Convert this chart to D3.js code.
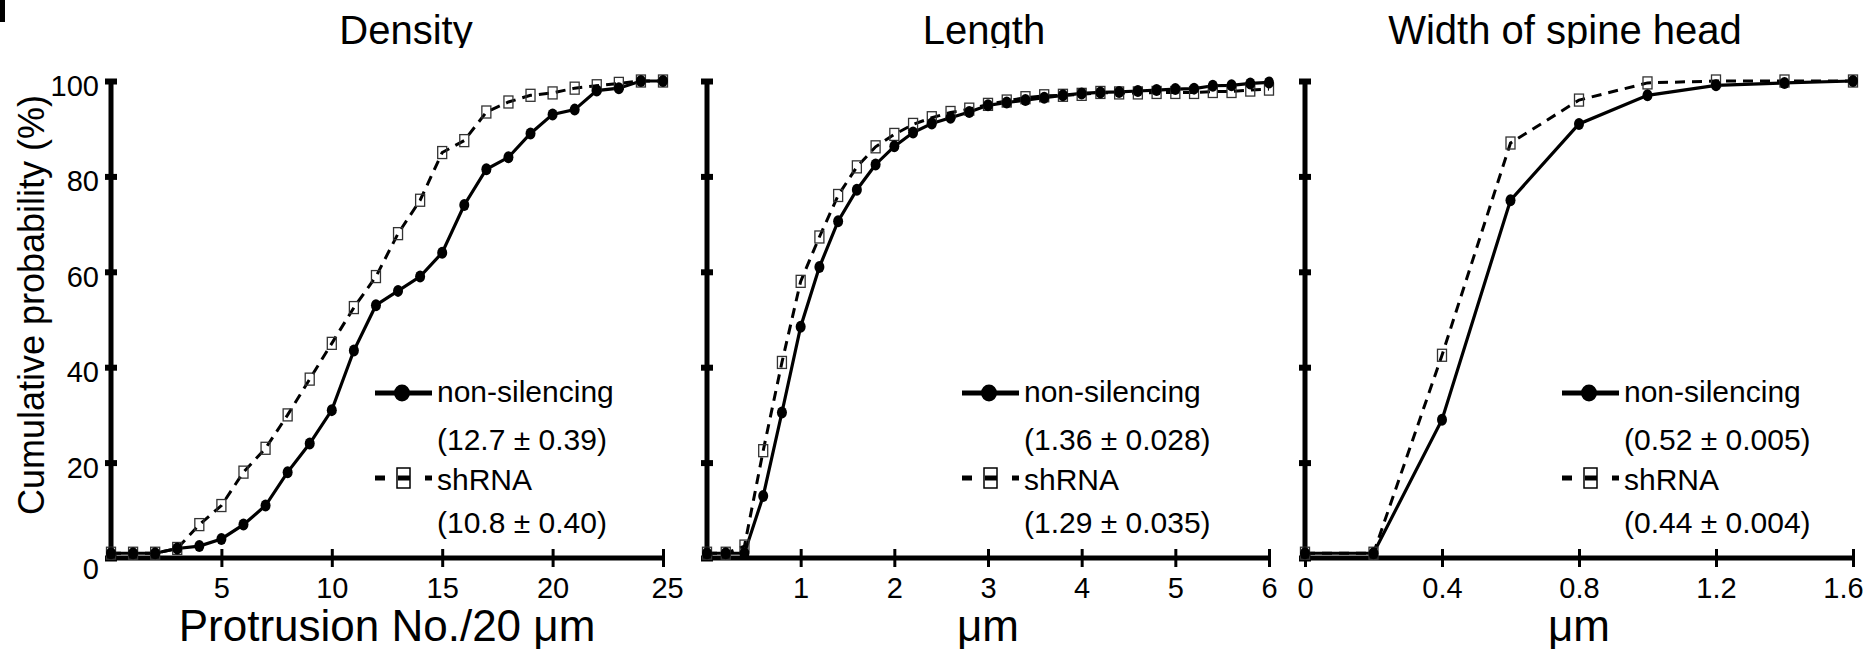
<!DOCTYPE html>
<html>
<head>
<meta charset="utf-8">
<script src="https://cdn.jsdelivr.net/npm/d3@7/dist/d3.min.js"></script>
<style>
	body { margin: 0; background: #fff; }
	svg { display: block; font-family: "Liberation Sans", Arial, sans-serif; }
</style>
</head>
<body>
<div id="svg-container"></div>
<script>

// DATA
const yTicks = [0, 20, 40, 60, 80, 100];
const seriesNames = ['non-silencing', 'shRNA'];

// density panel
const densityX = [0, 1, 2, 3, 4, 5, 6, 7, 8, 9, 10, 11, 12, 13, 14, 15, 16, 17, 18, 19, 20, 21, 22, 23, 24, 25];
const densityNonSil = [1, 1, 1, 2, 2.5, 4, 7, 11, 18, 24, 31, 43.5, 53, 56, 59, 64, 74, 81.5, 84, 89, 93, 94, 98, 98.5, 100, 100];
const densityShRNA = [1, 1, 1, 2, 7, 11, 18, 23, 30, 37.5, 45, 52.5, 59, 68, 75, 85, 87.5, 93.5, 95.6, 97, 97.5, 98.5, 99, 99.5, 100, 100];
const densityTicks = [5, 10, 15, 20, 25];
const densityStats = ['(12.7 \u00B1 0.39)', '(10.8 \u00B1 0.40)'];

// length panel
const lengthX = [0, 0.2, 0.4, 0.6, 0.8, 1, 1.2, 1.4, 1.6, 1.8, 2, 2.2, 2.4, 2.6, 2.8, 3, 3.2, 3.4, 3.6, 3.8, 4, 4.2, 4.4, 4.6, 4.8, 5, 5.2, 5.4, 5.6, 5.8, 6];
const lengthNonSil = [1, 1, 1, 13, 30.5, 48.5, 61, 70.6, 77.2, 82.5, 86.3, 89.2, 91.1, 92.3, 93.5, 94.9, 95.5, 96, 96.5, 97, 97.4, 97.6, 97.7, 97.9, 98.1, 98.3, 98.4, 99, 99.1, 99.5, 99.7];
const lengthShRNA = [1, 1, 2.5, 22.5, 41, 58, 67.3, 76, 82, 86.2, 88.8, 90.9, 92.3, 93.4, 94.1, 95.1, 95.8, 96.5, 96.9, 97, 97.2, 97.6, 97.5, 97.5, 97.6, 97.6, 97.6, 97.8, 97.8, 98.1, 98.3];
const lengthTicks = [1, 2, 3, 4, 5, 6];
const lengthStats = ['(1.36 \u00B1 0.028)', '(1.29 \u00B1 0.035)'];

// width panel
const widthX = [0, 0.2, 0.4, 0.6, 0.8, 1, 1.2, 1.4, 1.6];
const widthNonSil = [1, 1, 29, 75, 91, 97, 99.1, 99.6, 100];
const widthShRNA = [1, 1, 42.5, 87, 96, 99.6, 100, 100, 100];
const widthTicks = [0, 0.4, 0.8, 1.2, 1.6];
const widthStats = ['(0.52 \u00B1 0.005)', '(0.44 \u00B1 0.004)'];


// ONE PANEL
function graphPanel(svg, p) {
	const top = 81;
	const bottom = 558;

	// scales
	const xScale = d3.scaleLinear()
		.domain([p.x[0], p.x[p.x.length - 1]])
		.range([p.left, p.right]);
	const yScale = d3.scaleLinear()
		.domain([0, 100])
		.range([bottom, top]);

	const g = svg.append('g');

	// title, clipped at the top band like the original
	g.append('text')
		.attr('x', p.titleX)
		.attr('y', 44)
		.attr('text-anchor', 'middle')
		.attr('font-size', 40)
		.attr('clip-path', 'url(#titleClip)')
		.text(p.title);

	// x axis
	const xAxis = d3.axisBottom(xScale)
		.tickValues(p.ticks)
		.tickSize(18)
		.tickPadding(0)
		.tickFormat(d => p.showZero || d !== 0 ? d3.format('')(d) : '');
	const gx = g.append('g')
		.attr('transform', `translate(0,${bottom})`)
		.call(xAxis);
	gx.select('.domain')
		.attr('stroke-width', 5)
		.attr('d', `M${xScale.range()[0]},0H${xScale.range()[1]}`);
	gx.selectAll('.tick line')
		.attr('y1', -9)
		.attr('y2', 9)
		.attr('stroke-width', 3);
	gx.selectAll('.tick text')
		.attr('y', 19)
		.attr('dy', '0.71em')
		.attr('dx', (d, i) => i === p.ticks.length - 1 ? p.lastDx : 0)
		.attr('font-size', 29)
		.attr('font-family', '"Liberation Sans", Arial, sans-serif')
		.attr('fill', '#000');

	// y axis
	const yAxis = d3.axisLeft(yScale)
		.tickValues(yTicks)
		.tickSize(6)
		.tickPadding(10)
		.tickFormat(d => p.yLabels ? d : '');
	const gy = g.append('g')
		.attr('transform', `translate(${p.left},0)`)
		.call(yAxis);
	gy.select('.domain')
		.attr('stroke-width', 5)
		.attr('d', `M0,${bottom}V${top}`);
	gy.selectAll('.tick line')
		.attr('x1', -6)
		.attr('x2', 6)
		.attr('stroke-width', 6);
	gy.selectAll('.tick text')
		.attr('dy', d => d === 0 ? '0.7em' : '0.5em')
		.attr('x', -12)
		.attr('font-size', 29)
		.attr('font-family', '"Liberation Sans", Arial, sans-serif')
		.attr('fill', '#000');

	// x axis title
	g.append('text')
		.attr('x', (p.left + p.right) / 2)
		.attr('y', 641)
		.attr('text-anchor', 'middle')
		.attr('font-size', 44)
		.text(p.xTitle);

	// lines
	const line = d3.line()
		.x(d => xScale(d[0]))
		.y(d => yScale(d[1]));
	const shPts = p.x.map((x, i) => [x, p.sh[i]]);
	const nsPts = p.x.map((x, i) => [x, p.ns[i]]);

	g.append('path')
		.datum(shPts)
		.attr('fill', 'none')
		.attr('stroke', '#000')
		.attr('stroke-width', 3)
		.attr('stroke-dasharray', '10,7')
		.attr('d', line);
	g.append('path')
		.datum(nsPts)
		.attr('fill', 'none')
		.attr('stroke', '#000')
		.attr('stroke-width', 3.2)
		.attr('d', line);

	// markers
	g.selectAll('.sq')
		.data(shPts)
		.enter()
		.append('rect')
		.attr('x', d => xScale(d[0]) - 4.5)
		.attr('y', d => yScale(d[1]) - 6)
		.attr('width', 9)
		.attr('height', 12)
		.attr('fill', 'none')
		.attr('stroke', '#333')
		.attr('stroke-width', 1.3);
	g.selectAll('.dot')
		.data(nsPts)
		.enter()
		.append('ellipse')
		.attr('cx', d => xScale(d[0]))
		.attr('cy', d => yScale(d[1]))
		.attr('rx', 5)
		.attr('ry', 6)
		.attr('fill', '#000');

	// legend
	const lx = p.legX;
	const lg = g.append('g').attr('font-size', 30);
	lg.append('line')
		.attr('x1', lx).attr('x2', lx + 57)
		.attr('y1', 393).attr('y2', 393)
		.attr('stroke', '#000').attr('stroke-width', 5);
	lg.append('ellipse')
		.attr('cx', lx + 27).attr('cy', 393)
		.attr('rx', 8).attr('ry', 8.5)
		.attr('fill', '#000');
	lg.append('line')
		.attr('x1', lx).attr('x2', lx + 57)
		.attr('y1', 478).attr('y2', 478)
		.attr('stroke', '#000').attr('stroke-width', 5)
		.attr('stroke-dasharray', '10,13,12,15,7');
	lg.append('rect')
		.attr('x', lx + 22).attr('y', 468)
		.attr('width', 13).attr('height', 20)
		.attr('fill', 'none')
		.attr('stroke', '#000').attr('stroke-width', 1.5);

	const rows = [
		[seriesNames[0], 402],
		[p.stats[0], 450],
		[seriesNames[1], 490],
		[p.stats[1], 533]
	];
	lg.selectAll('.lt')
		.data(rows)
		.enter()
		.append('text')
		.attr('x', lx + 62)
		.attr('y', d => d[1])
		.text(d => d[0]);
}


// DRAW
document.addEventListener('DOMContentLoaded', () => {
	const w = 1872;
	const h = 654;

	const svg = d3.select('#svg-container')
		.append('svg')
		.attr('width', w)
		.attr('height', h);

	svg.append('defs')
		.append('clipPath')
		.attr('id', 'titleClip')
		.append('rect')
		.attr('x', 0).attr('y', 0)
		.attr('width', w).attr('height', 48);

	// bit of a cut-off panel letter at the top left
	svg.append('rect')
		.attr('x', 0).attr('y', 0)
		.attr('width', 5).attr('height', 22)
		.attr('fill', '#000');

	// y axis title
	svg.append('text')
		.attr('transform', 'translate(44,305) rotate(-90)')
		.attr('text-anchor', 'middle')
		.attr('font-size', 36)
		.text('Cumulative probability (%)');

	graphPanel(svg, {
		title: 'Density', titleX: 406,
		left: 111, right: 663,
		x: densityX, ns: densityNonSil, sh: densityShRNA,
		ticks: densityTicks, showZero: false, yLabels: true, lastDx: 4,
		xTitle: 'Protrusion No./20 \u03BCm',
		stats: densityStats, legX: 375
	});
	graphPanel(svg, {
		title: 'Length', titleX: 984,
		left: 707, right: 1269,
		x: lengthX, ns: lengthNonSil, sh: lengthShRNA,
		ticks: lengthTicks, showZero: false, yLabels: false, lastDx: 0,
		xTitle: '\u03BCm',
		stats: lengthStats, legX: 962
	});
	graphPanel(svg, {
		title: 'Width of spine head', titleX: 1565,
		left: 1305, right: 1853,
		x: widthX, ns: widthNonSil, sh: widthShRNA,
		ticks: widthTicks, showZero: true, yLabels: false, lastDx: -10,
		xTitle: '\u03BCm',
		stats: widthStats, legX: 1562
	});
});
</script>
</body>
</html>
